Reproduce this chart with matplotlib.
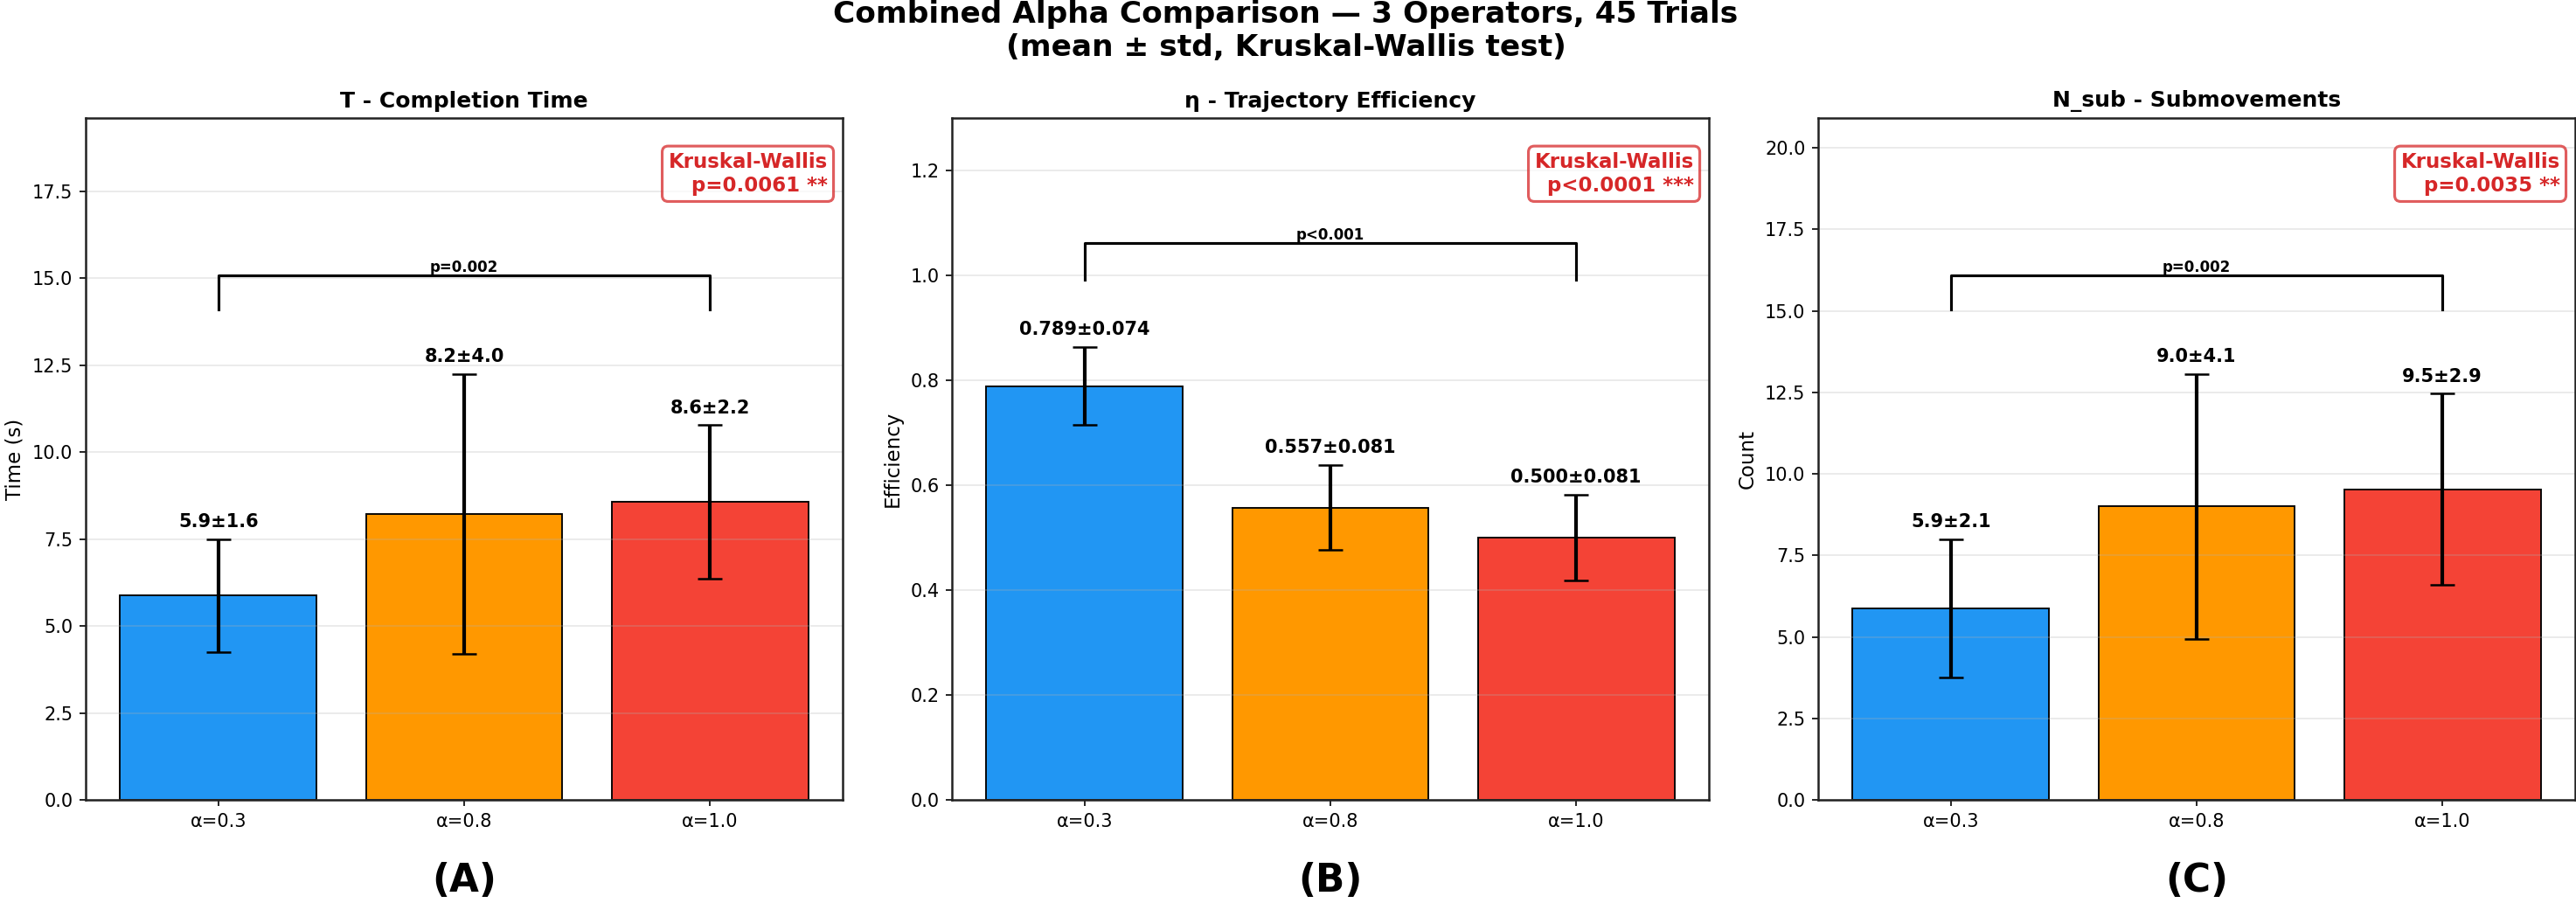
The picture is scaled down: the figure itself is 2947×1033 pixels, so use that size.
import matplotlib
matplotlib.use('Agg')
import matplotlib.pyplot as plt

# ---- data ----
conditions = ['α=0.3', 'α=0.8', 'α=1.0']
colors = ['#2196F3', '#FF9800', '#F44336']

T_mean = [5.87, 8.22, 8.57]
T_std = [1.63, 4.03, 2.20]
eta_mean = [0.789, 0.557, 0.500]
eta_std = [0.074, 0.081, 0.081]
nsub_mean = [5.87, 9.00, 9.53]
nsub_std = [2.12, 4.07, 2.93]

titles = ['T - Completion Time', 'η - Trajectory Efficiency', 'N_sub - Submovements']
ylabels = ['Time (s)', 'Efficiency', 'Count']
label_fmt = ['{:.1f}±{:.1f}', '{:.3f}±{:.3f}', '{:.1f}±{:.1f}']
kw_text = ['Kruskal-Wallis\np=0.0061 **', 'Kruskal-Wallis\np<0.0001 ***',
           'Kruskal-Wallis\np=0.0035 **']
pair_text = ['p=0.002', 'p<0.001', 'p=0.002']
ylim_cap = [None, 1.3, None]
panel_labels = ['(A)', '(B)', '(C)']
suptitle = 'Combined Alpha Comparison — 3 Operators, 45 Trials\n(mean ± std, Kruskal-Wallis test)'

means_all = [T_mean, eta_mean, nsub_mean]
stds_all = [T_std, eta_std, nsub_std]

# ---- figure ----
W, H, DPI = 2947, 1033, 150
fig = plt.figure(figsize=(W / DPI, H / DPI), dpi=DPI)
plt.rcParams['font.family'] = ['DejaVu Sans']

ax_left_px = [98, 1089, 2080]
ax_w_px = 866
ax_top_px, ax_bot_px = 135, 915

kw_red = '#d62728'

for i in range(3):
    ax = fig.add_axes([ax_left_px[i] / W, 1 - ax_bot_px / H,
                       ax_w_px / W, (ax_bot_px - ax_top_px) / H])
    m = means_all[i]
    s = stds_all[i]
    x = list(range(len(conditions)))
    ax.bar(x, m, width=0.8, color=colors, edgecolor='black', linewidth=0.9,
           yerr=s, capsize=6.5,
           error_kw=dict(elinewidth=2.0, capthick=1.2, ecolor='black'))
    tops = [a + b for a, b in zip(m, s)]
    maxtop = max(tops)
    ytop = maxtop * 1.6
    if ylim_cap[i] is not None:
        ytop = min(ytop, ylim_cap[i])
    ax.set_ylim(0, ytop)

    for xi, mi, si in zip(x, m, s):
        ax.text(xi, mi + si + 0.02 * maxtop, label_fmt[i].format(mi, si),
                ha='center', va='bottom', fontsize=10, fontweight='bold')

    # bracket
    by = maxtop * 1.15
    bh = maxtop * 0.08
    ax.plot([0, 0, 2, 2], [by, by + bh, by + bh, by], color='black', lw=1.5)
    ax.text(1, by + bh, pair_text[i], ha='center', va='bottom',
            fontsize=8, fontweight='bold')

    ax.text(0.98, 0.95, kw_text[i], transform=ax.transAxes, ha='right', va='top',
            fontsize=11, fontweight='bold', color=kw_red,
            bbox=dict(boxstyle='round,pad=0.3', facecolor='white',
                      edgecolor=kw_red, alpha=0.75, linewidth=1.5))

    ax.set_xticks(x)
    ax.set_xticklabels(conditions, fontsize=10)
    ax.tick_params(axis='y', labelsize=10)
    ax.set_ylabel(ylabels[i], fontsize=11)
    ax.set_title(titles[i], fontsize=12, fontweight='bold')
    ax.grid(axis='y', alpha=0.3)
    for sp in ax.spines.values():
        sp.set_color('#222222')
        sp.set_linewidth(1.2)

    cx = (ax_left_px[i] + ax_w_px / 2) / W
    fig.text(cx, 1 - 1008 / H, panel_labels[i], ha='center', va='center',
             fontsize=21, fontweight='bold')

fig.text(1471 / W, 1 - 0 / H, suptitle, ha='center', va='top',
         fontsize=16.5, fontweight='bold', linespacing=1.2)

fig.savefig('out.png', dpi=DPI)
